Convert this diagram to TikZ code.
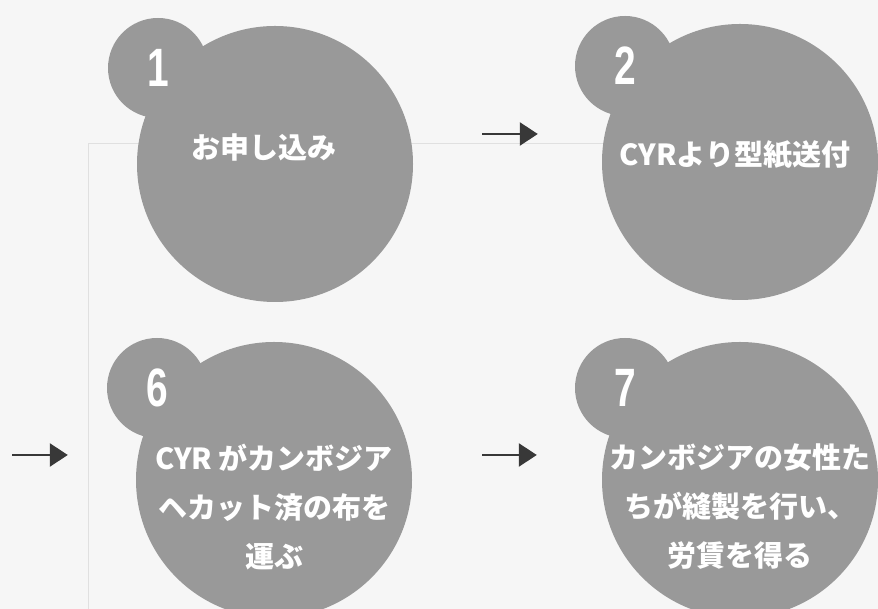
\documentclass[tikz,border=0pt]{standalone}
\usepackage{fontspec}
\usepackage{graphicx}
\newfontfamily\jpfont{Noto Sans CJK JP}
\newfontfamily\numfont{Liberation Sans}
\usetikzlibrary{calc}
\usetikzlibrary{arrows.meta}

\definecolor{discgray}{gray}{0.6}
\definecolor{arrowgray}{gray}{0.22}
\definecolor{paper}{gray}{0.965}
\definecolor{framegray}{gray}{0.88}

\tikzset{
  disc/.style={circle,fill=discgray,minimum size=276pt,inner sep=0pt},
  bump/.style={circle,fill=discgray,minimum size=100pt,inner sep=0pt,text=white,
    font=\numfont\bfseries\fontsize{54}{54}\selectfont},
  steptext/.style={text=white,align=center,inner sep=0pt,
    font=\jpfont\bfseries\fontsize{29}{49}\selectfont},
  flow/.style={arrowgray,line width=2.5pt,-{Triangle[length=18pt,width=23pt]}}
}

\begin{document}
\begin{tikzpicture}[x=1pt,y=1pt]
        \useasboundingbox (0,0) rectangle (878,609);
        \clip (0,0) rectangle (878,609);
        \fill[paper] (0,0) rectangle (878,609);
        \draw[framegray,line width=1pt] (88,0) -- (88,465) -- (878,465);

        % the four steps
        \node[disc] (s1) at (275,445) {};
        \node[disc] (s2) at (740,447) {};
        \node[disc] (s6) at (274,129) {};
        \node[disc] (s7) at (740,129) {};

        \node[bump] (n1) at ($(s1)+(-117,96)$) {\scalebox{.72}[1]{1}};
        \node[bump] (n2) at ($(s2)+(-115,96)$) {\scalebox{.72}[1]{2}};
        \node[bump] (n6) at ($(s6)+(-117,92)$) {\scalebox{.72}[1]{6}};
        \node[bump] (n7) at ($(s7)+(-115,92)$) {\scalebox{.72}[1]{7}};

        \node[steptext] (t1) at ($(s1)+(-11,17)$) {お申し込み};
        \node[steptext] (t2) at ($(s2)+(-5,7)$) {CYRより型紙送付};
        \node[steptext] (t6) at ($(s6)+(0,-27)$) {CYR がカンボジア\\ヘカット済の布を\\運ぶ};
        \node[steptext] (t7) at ($(s7)+(0,-27)$) {カンボジアの女性た\\ちが縫製を行い、\\労賃を得る};

        % arrows
        \coordinate (in6) at (12,154);
        \draw[flow,shorten <=69pt,shorten >=64pt] ([yshift=30pt]s1.east) -- ([yshift=28pt]s2.west);
        \draw[flow,shorten >=68pt] (in6) -- ([yshift=25pt]s6.west);
        \draw[flow,shorten <=70pt,shorten >=65pt] ([yshift=25pt]s6.east) -- ([yshift=25pt]s7.west);
\end{tikzpicture}
\end{document}
